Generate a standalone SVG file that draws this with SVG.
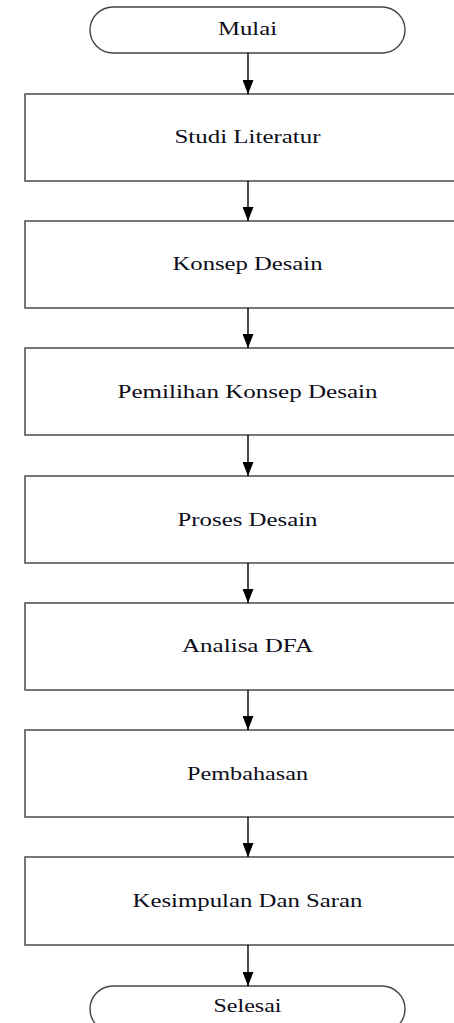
<svg xmlns="http://www.w3.org/2000/svg" width="454" height="1023" viewBox="0 0 454 1023">
<style>
.box{fill:#fff;stroke:#555;stroke-width:1.6}
.term{fill:#fff;stroke:#444;stroke-width:1.4}
.lbl{font-family:"Liberation Serif","Times New Roman",serif;font-size:18px;fill:#0d0d1a;text-anchor:middle}
.conn{stroke:#000;stroke-width:1.4;fill:none}
</style>
<defs>
<marker id="ah" markerUnits="userSpaceOnUse" markerWidth="14" markerHeight="11" refX="14" refY="5.5" orient="auto">
<path d="M0,0 L14,5.5 L0,11 Z" fill="#000"/>
</marker>
</defs>
<rect width="454" height="1023" fill="#fff"/>
<g id="n-mulai"><rect class="term" x="90" y="7" width="315" height="46" rx="23"/><text class="lbl" x="247.5" y="35" textLength="59" lengthAdjust="spacingAndGlyphs">Mulai</text></g>
<g id="n-studi"><rect class="box" x="25" y="94" width="446" height="87"/><text class="lbl" x="247.5" y="143" textLength="146" lengthAdjust="spacingAndGlyphs">Studi Literatur</text></g>
<g id="n-konsep"><rect class="box" x="25" y="221" width="446" height="87"/><text class="lbl" x="247.5" y="270" textLength="150" lengthAdjust="spacingAndGlyphs">Konsep Desain</text></g>
<g id="n-pemilihan"><rect class="box" x="25" y="348" width="446" height="87"/><text class="lbl" x="247.5" y="398" textLength="260" lengthAdjust="spacingAndGlyphs">Pemilihan Konsep Desain</text></g>
<g id="n-proses"><rect class="box" x="25" y="476" width="446" height="87"/><text class="lbl" x="247.5" y="526" textLength="140" lengthAdjust="spacingAndGlyphs">Proses Desain</text></g>
<g id="n-analisa"><rect class="box" x="25" y="603" width="446" height="87"/><text class="lbl" x="247.5" y="652" textLength="131" lengthAdjust="spacingAndGlyphs">Analisa DFA</text></g>
<g id="n-pembahasan"><rect class="box" x="25" y="730" width="446" height="87"/><text class="lbl" x="247.5" y="780" textLength="121" lengthAdjust="spacingAndGlyphs">Pembahasan</text></g>
<g id="n-kesimpulan"><rect class="box" x="25" y="857" width="446" height="88"/><text class="lbl" x="247.5" y="907" textLength="230" lengthAdjust="spacingAndGlyphs">Kesimpulan Dan Saran</text></g>
<g id="n-selesai"><rect class="term" x="90" y="986" width="315" height="46" rx="23"/><text class="lbl" x="247.5" y="1012" textLength="68" lengthAdjust="spacingAndGlyphs">Selesai</text></g>
<g id="connectors">
<line class="conn" x1="248" y1="53" x2="248" y2="94" marker-end="url(#ah)"/>
<line class="conn" x1="248" y1="181" x2="248" y2="221" marker-end="url(#ah)"/>
<line class="conn" x1="248" y1="308" x2="248" y2="348" marker-end="url(#ah)"/>
<line class="conn" x1="248" y1="435" x2="248" y2="476" marker-end="url(#ah)"/>
<line class="conn" x1="248" y1="563" x2="248" y2="603" marker-end="url(#ah)"/>
<line class="conn" x1="248" y1="690" x2="248" y2="730" marker-end="url(#ah)"/>
<line class="conn" x1="248" y1="817" x2="248" y2="857" marker-end="url(#ah)"/>
<line class="conn" x1="248" y1="945" x2="248" y2="986" marker-end="url(#ah)"/>
</g>
</svg>
